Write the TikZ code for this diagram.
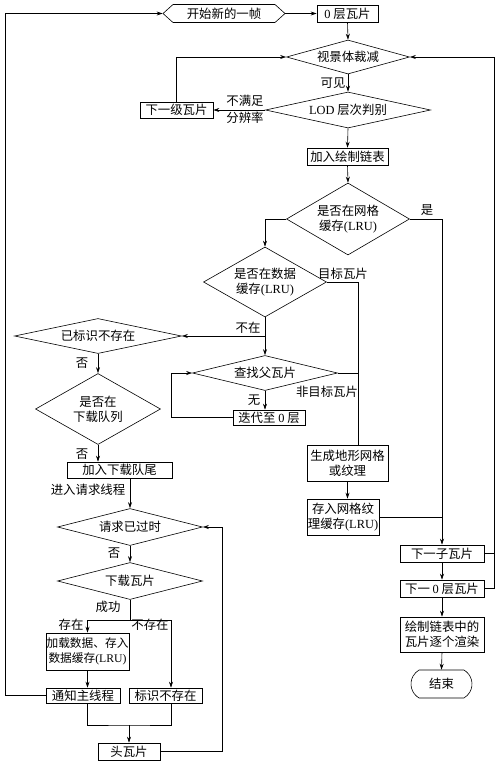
\documentclass[tikz,border=0pt]{standalone}
\usepackage{fontspec}
\setmainfont{Liberation Serif}
\newfontfamily\cjk{Noto Sans CJK SC}
\usetikzlibrary{shapes.geometric,shapes.misc,shapes.symbols,arrows.meta}
\newcommand{\latn}[1]{{\rmfamily #1}}

\begin{document}
\begin{tikzpicture}[x=1pt,y=1pt,yscale=-1,line width=0.6pt,
  every node/.style={font=\cjk\fontsize{12.4}{15}\selectfont,inner sep=1pt},
  proc/.style={draw,rectangle,align=center},
  decision/.style={draw,diamond,inner sep=0pt,align=center},
  arr/.style={-{Stealth[length=6pt,width=4pt]}}]
\useasboundingbox (0,0) rectangle (500,764);

%Start and main loop
\node [draw,signal,signal to=east and west,signal pointer angle=84,minimum width=122,minimum height=18] (start) at (224,13.5) {开始新的一帧};
\node [proc,minimum width=61,minimum height=17] (lvl0) at (347.5,13.5) {\latn{0} 层瓦片};
\node [decision,aspect=3.6,minimum width=123,minimum height=34] (cull) at (348,57) {视景体裁减};
\node [decision,aspect=4.5,minimum width=165,minimum height=36] (lod) at (348,110) {\latn{LOD} 层次判别};
\node [proc,minimum width=73,minimum height=16] (nextlvl) at (176.5,110) {下一级瓦片};
\node [proc,minimum width=81,minimum height=17] (addlist) at (347.5,156.5) {加入绘制链表};
\node [decision,aspect=1.7,minimum width=123,minimum height=72] (gridc) at (348,219) {是否在网格\\缓存\latn{(LRU)}};
\node [decision,aspect=1.75,minimum width=123,minimum height=70] (datac) at (265,282) {是否在数据\\缓存\latn{(LRU)}};

%Parent search
\node [decision,aspect=4.1,minimum width=145,minimum height=35] (parent) at (265,373) {查找父瓦片};
\node [proc,minimum width=72,minimum height=15] (iter) at (269,417.5) {迭代至 \latn{0} 层};
\node [proc,minimum width=81,minimum height=36] (gen) at (347.5,463) {生成地形网格\\或纹理};
\node [proc,minimum width=72,minimum height=36] (store) at (343,517) {存入网格纹\\理缓存\latn{(LRU)}};

%Right column
\node [proc,minimum width=84,minimum height=17] (child) at (442,553.5) {下一子瓦片};
\node [proc,minimum width=84,minimum height=17] (next0) at (442,588.5) {下一 \latn{0} 层瓦片};
\node [proc,minimum width=84,minimum height=35] (render) at (442,634.5) {绘制链表中的\\瓦片逐个渲染};
\node [draw,rounded rectangle,rounded rectangle arc length=120,minimum width=63,minimum height=28] (finish) at (441.5,684) {结束};

%Download thread
\node [decision,aspect=4.8,minimum width=167,minimum height=35] (marked) at (98,336) {已标识不存在};
\node [decision,aspect=1.75,minimum width=125,minimum height=71] (inqueue) at (98,409) {是否在\\下载队列};
\node [proc,minimum width=105,minimum height=16] (enqueue) at (119.5,470) {加入下载队尾};
\node [decision,aspect=3.9,minimum width=145,minimum height=37] (expired) at (130,527) {请求已过时};
\node [decision,aspect=3.9,minimum width=145,minimum height=37] (download) at (130,581) {下载瓦片};
\node [proc,minimum width=83,minimum height=37,inner sep=0pt,font=\cjk\fontsize{11.7}{15}\selectfont] (load) at (87.5,651.5) {加载数据、存入\\数据缓存\latn{(LRU)}};
\node [proc,minimum width=74,minimum height=15] (notify) at (83,695.5) {通知主线程};
\node [proc,minimum width=73,minimum height=15] (markne) at (165.5,695.5) {标识不存在};
\node [proc,minimum width=62,minimum height=17] (head) at (129,751.5) {头瓦片};

%Labels
\node (lblvisible) at (333,83) {可见};
\node (lblres1) at (245,101) {不满足};
\node (lblres2) at (245,118) {分辨率};
\node (lblyes) at (427,210) {是};
\node (lbltarget) at (343,274) {目标瓦片};
\node (lblnotin) at (248,328) {不在};
\node (lblnontarget) at (327,392) {非目标瓦片};
\node (lblnone) at (254,400) {无};
\node (lblno1) at (82,363) {否};
\node (lblno2) at (82,454) {否};
\node (lblthread) at (88,490) {进入请求线程};
\node (lblno3) at (114,553) {否};
\node (lblok) at (108,607) {成功};
\node (lblexist) at (71,625) {存在};
\node (lblnoexist) at (150,625) {不存在};

%Helper points
\coordinate (leftrail) at (5,13.5);
\coordinate (rightrail) at (494,57);
\coordinate (tx) at (358,282);
\coordinate (split) at (265,336);
\coordinate (loopL) at (171,417.5);
\coordinate (fork) at (130,620);
\coordinate (forkR) at (171,620);
\coordinate (merge) at (129,725);
\coordinate (retR) at (222,527);

%Connectors
\draw [arr] (start.east) -- (lvl0.west);
\draw [arr] (lvl0.south) -- (cull.north);
\draw [arr] (cull.south) -- (lod.north);
\draw [arr] (lod.west) -- (nextlvl.east);
\draw [arr] (nextlvl.north) |- (cull.west);
\draw [arr] (lod.south) -- (addlist.north);
\draw [arr] (addlist.south) -- (gridc.north);
\draw [arr] (gridc.east) -| (child.north);
\draw [arr] (gridc.west) -| (datac.north);
\draw (datac.east) -- (tx) -- (tx |- gen.north);
\draw [arr] (datac.south) -- (parent.north);
\draw [arr] (split) -- (marked.east);
\draw (parent.east) -- (parent.east -| tx);
\draw [arr] (parent.south) -- (parent.south |- iter.north);
\draw [arr] (iter.west) -- (loopL) |- (parent.west);
\draw [arr] (gen.south) -- (gen.south |- store.north);
\draw (store.east) -- (store.east -| child.north);
\draw [arr] (child.south) -- (next0.north);
\draw [arr] (next0.south) -- (render.north);
\draw [arr] (render.south) -- (finish.north);
\draw (child.east) -- (child.east -| rightrail);
\draw [arr] (next0.east) -| (rightrail) -- (cull.east);
\draw [arr] (marked.south) -- (inqueue.north);
\draw [arr] (inqueue.south) -- (inqueue.south |- enqueue.north);
\draw [arr] (expired.north |- enqueue.south) -- (expired.north);
\draw [arr] (expired.south) -- (download.north);
\draw (download.south) -- (fork);
\draw [arr] (fork) -| (load.north);
\draw [arr] (fork) -- (forkR) -- (forkR |- markne.north);
\draw [arr] (load.south) -- (load.south |- notify.north);
\draw (load.south |- notify.south) |- (merge) -| (forkR |- markne.south);
\draw [arr] (merge) -- (head.north);
\draw [arr] (head.east) -| (retR) -- (expired.east);
\draw [arr] (notify.west) -| (leftrail) -- (start.west);
\end{tikzpicture}
\end{document}
